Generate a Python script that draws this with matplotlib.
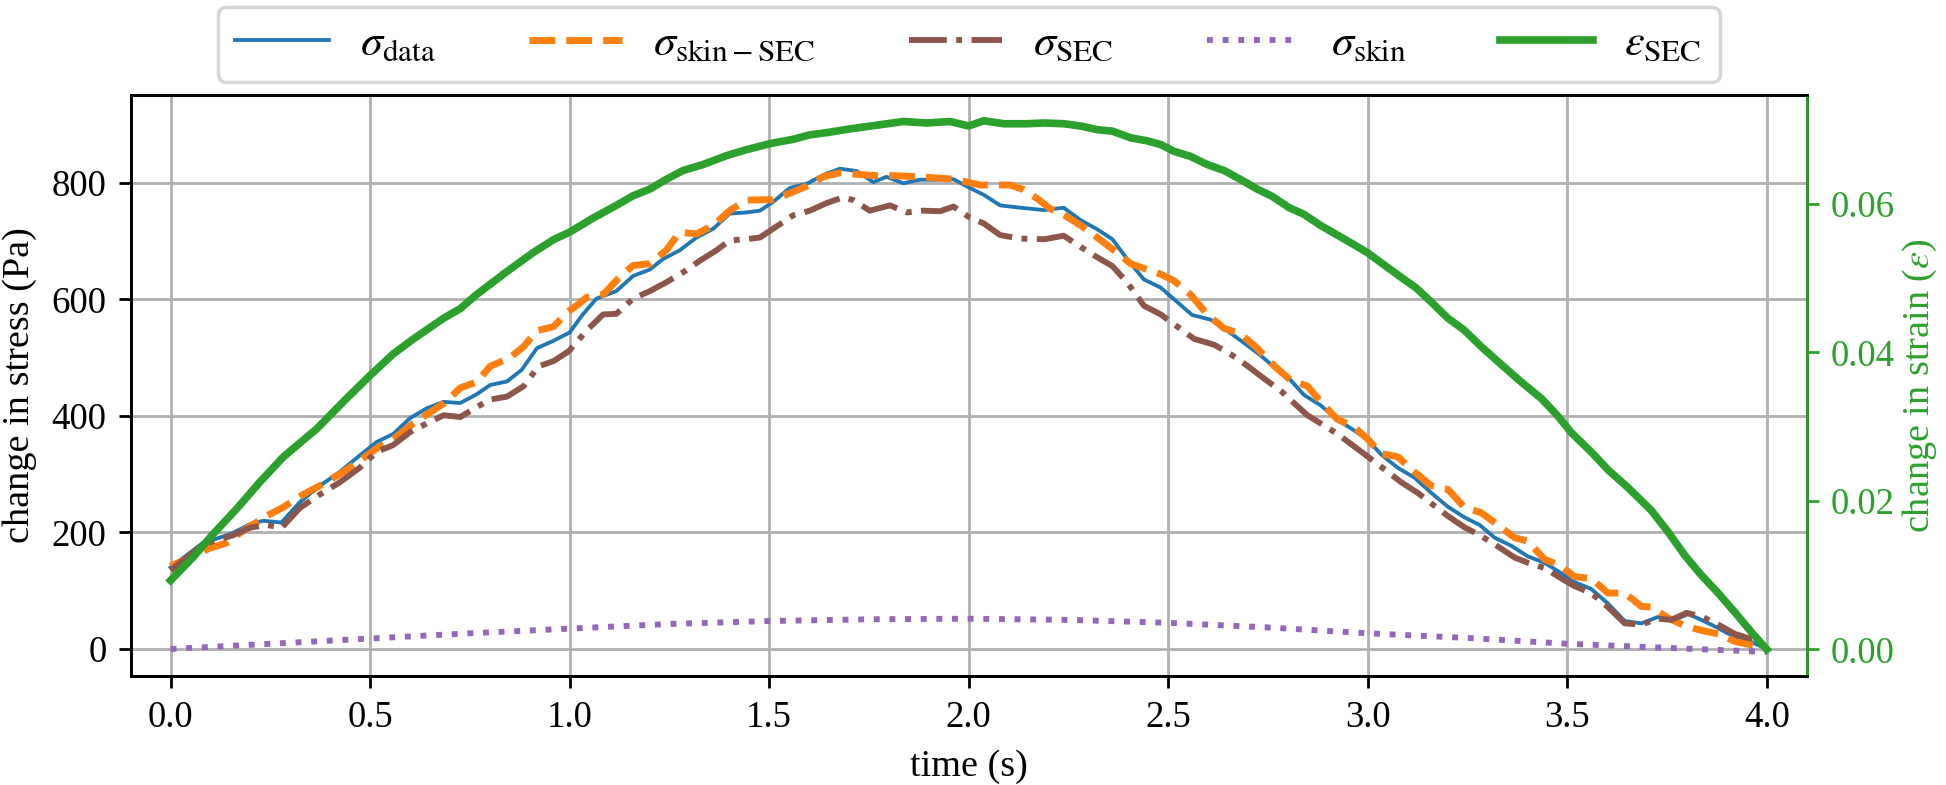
import matplotlib
matplotlib.use('Agg')
import matplotlib.pyplot as plt

plt.rcParams['font.family'] = ['Liberation Serif', 'DejaVu Serif']
plt.rcParams['mathtext.fontset'] = 'stix'

# ---------------- data ----------------
t_data = [0.0, 0.081, 0.123, 0.156, 0.198, 0.232, 0.278, 0.324, 0.374, 0.424, 0.474, 0.516,
          0.558, 0.6, 0.642, 0.684, 0.726, 0.767, 0.801, 0.843, 0.88, 0.918, 0.96, 1.0,
          1.033, 1.067, 1.117, 1.159, 1.201, 1.234, 1.276, 1.318, 1.36, 1.401, 1.443, 1.477,
          1.51, 1.552, 1.594, 1.635, 1.677, 1.719, 1.761, 1.794, 1.836, 1.878, 1.92, 1.962,
          2.0, 2.038, 2.079, 2.13, 2.188, 2.238, 2.28, 2.322, 2.36, 2.397, 2.439, 2.481,
          2.523, 2.56, 2.606, 2.648, 2.69, 2.731, 2.773, 2.807, 2.84, 2.882, 2.924, 2.966,
          3.0, 3.033, 3.075, 3.117, 3.159, 3.201, 3.242, 3.28, 3.318, 3.36, 3.401, 3.443,
          3.485, 3.518, 3.56, 3.602, 3.644, 3.686, 3.727, 3.769, 3.803, 3.836, 3.878, 3.92,
          3.962, 4.0]
sigma_data = [140, 182, 191, 199, 214, 220, 217, 252, 280, 304, 332, 355,
              369, 396, 413, 424, 422, 437, 453, 459, 479, 516, 529, 543,
              574, 601, 614, 640, 651, 669, 684, 706, 721, 747, 749, 752,
              767, 791, 798, 813, 824, 820, 801, 810, 799, 805, 805, 806,
              792, 779, 761, 757, 753, 757, 736, 720, 703, 669, 634, 620,
              595, 573, 565, 546, 525, 504, 479, 461, 436, 418, 393, 375,
              359, 334, 311, 294, 268, 244, 226, 213, 191, 177, 159, 148,
              130, 115, 103, 78, 48, 44, 55, 50, 60, 50, 36, 20,
              12, 0]

t_skin_sec = [0.0, 0.056, 0.098, 0.14, 0.182, 0.24, 0.282, 0.332, 0.382, 0.433, 0.474, 0.516,
              0.558, 0.608, 0.65, 0.684, 0.726, 0.767, 0.801, 0.851, 0.885, 0.918, 0.96, 0.993,
              1.023, 1.042, 1.084, 1.125, 1.159, 1.201, 1.242, 1.276, 1.318, 1.36, 1.401, 1.443,
              1.51, 1.552, 1.594, 1.635, 1.677, 1.727, 1.769, 1.811, 1.878, 1.92, 1.962, 2.003,
              2.029, 2.104, 2.138, 2.171, 2.205, 2.238, 2.28, 2.322, 2.364, 2.406, 2.447, 2.481,
              2.514, 2.556, 2.598, 2.64, 2.681, 2.723, 2.765, 2.807, 2.849, 2.89, 2.924, 2.966,
              3.0, 3.033, 3.075, 3.117, 3.159, 3.201, 3.242, 3.284, 3.326, 3.368, 3.401, 3.443,
              3.485, 3.518, 3.56, 3.602, 3.644, 3.686, 3.711, 3.753, 3.794, 3.836, 3.878, 3.92,
              3.962, 4.0]
sigma_skin_sec = [142, 160, 173, 182, 203, 228, 243, 265, 283, 304, 323, 344,
                  360, 387, 406, 421, 448, 458, 485, 500, 519, 546, 553, 577,
                  592, 603, 608, 638, 658, 661, 684, 715, 712, 727, 752, 770,
                  771, 782, 794, 810, 817, 814, 812, 812, 810, 808, 806, 800,
                  796, 796, 788, 773, 755, 745, 727, 706, 684, 661, 651, 643,
                  632, 608, 574, 550, 541, 516, 486, 461, 451, 418, 394, 381,
                  360, 335, 330, 304, 280, 274, 243, 234, 213, 191, 185, 154,
                  142, 124, 121, 96, 96, 73, 72, 53, 40, 32, 26, 13,
                  7, 0]

t_sec = [0.0, 0.081, 0.115, 0.156, 0.198, 0.24, 0.278, 0.324, 0.374, 0.424, 0.474, 0.516,
         0.558, 0.6, 0.642, 0.684, 0.726, 0.767, 0.801, 0.843, 0.885, 0.922, 0.96, 0.998,
         1.042, 1.084, 1.117, 1.159, 1.201, 1.242, 1.284, 1.326, 1.368, 1.401, 1.443, 1.477,
         1.51, 1.56, 1.602, 1.644, 1.686, 1.711, 1.752, 1.803, 1.845, 1.886, 1.928, 1.962,
         2.003, 2.038, 2.079, 2.13, 2.19, 2.238, 2.28, 2.322, 2.36, 2.397, 2.439, 2.481,
         2.523, 2.565, 2.615, 2.656, 2.698, 2.74, 2.782, 2.815, 2.849, 2.882, 2.924, 2.975,
         3.008, 3.05, 3.084, 3.125, 3.159, 3.201, 3.242, 3.284, 3.326, 3.368, 3.401, 3.443,
         3.485, 3.518, 3.56, 3.602, 3.644, 3.686, 3.727, 3.761, 3.799, 3.836, 3.878, 3.92,
         3.962, 4.0]
sigma_sec = [135, 179, 187, 195, 208, 213, 208, 242, 265, 286, 311, 338,
             350, 372, 387, 401, 398, 415, 428, 433, 451, 485, 494, 511,
             546, 574, 575, 601, 614, 629, 646, 666, 684, 701, 703, 706,
             721, 744, 752, 765, 775, 770, 752, 761, 749, 752, 751, 759,
             740, 730, 710, 704, 703, 709, 690, 672, 657, 629, 589, 574,
             553, 532, 522, 506, 486, 464, 443, 422, 401, 387, 369, 343,
             326, 304, 286, 268, 250, 228, 209, 194, 176, 157, 148, 139,
             121, 108, 96, 72, 44, 42, 52, 50, 62, 56, 42, 26,
             17, 1]

t_skin = [0.0, 0.25, 0.5, 0.75, 1.0, 1.25, 1.5, 1.75, 2.0, 2.25, 2.5, 2.75, 3.0, 3.25,
          3.5, 3.75, 4.0]
sigma_skin = [0, 9, 18, 27, 35, 43, 48, 51, 52, 50, 45, 37, 27, 19, 9, 2, -5]

t_strain = [0.0, 0.056, 0.106, 0.165, 0.223, 0.282, 0.315, 0.366, 0.441, 0.5, 0.558, 0.608,
            0.684, 0.726, 0.767, 0.843, 0.91, 0.96, 1.0, 1.059, 1.117, 1.159, 1.201, 1.242,
            1.284, 1.334, 1.393, 1.443, 1.5, 1.56, 1.602, 1.644, 1.702, 1.769, 1.836, 1.895,
            1.953, 2.0, 2.038, 2.088, 2.146, 2.19, 2.238, 2.28, 2.322, 2.36, 2.406, 2.447,
            2.481, 2.514, 2.556, 2.598, 2.64, 2.681, 2.723, 2.761, 2.803, 2.84, 2.882, 2.924,
            2.966, 3.0, 3.033, 3.084, 3.121, 3.159, 3.201, 3.242, 3.284, 3.334, 3.385, 3.435,
            3.477, 3.51, 3.56, 3.602, 3.652, 3.711, 3.753, 3.794, 3.836, 3.878, 3.92, 3.962,
            4.0]
eps_sec = [0.0093, 0.0124, 0.0155, 0.0189, 0.0225, 0.0259, 0.0274, 0.0297, 0.0338, 0.0369,
           0.0398, 0.0418, 0.0446, 0.0459, 0.0478, 0.0509, 0.0535, 0.0552, 0.0562, 0.0581,
           0.0598, 0.0611, 0.0620, 0.0633, 0.0645, 0.0653, 0.0665, 0.0673, 0.0681, 0.0687,
           0.0693, 0.0696, 0.0701, 0.0706, 0.0711, 0.0709, 0.0711, 0.0705, 0.0712, 0.0708,
           0.0708, 0.0709, 0.0708, 0.0705, 0.0700, 0.0698, 0.0689, 0.0685, 0.0680, 0.0671,
           0.0664, 0.0653, 0.0645, 0.0633, 0.0620, 0.0610, 0.0595, 0.0586, 0.0571, 0.0558,
           0.0545, 0.0534, 0.0521, 0.0501, 0.0487, 0.0468, 0.0446, 0.0430, 0.0408, 0.0384,
           0.0360, 0.0338, 0.0314, 0.0292, 0.0266, 0.0242, 0.0218, 0.0187, 0.0158, 0.0127,
           0.0100, 0.0076, 0.0050, 0.0023, 0.0]

x_ticks = [0.0, 0.5, 1.0, 1.5, 2.0, 2.5, 3.0, 3.5, 4.0]
stress_ticks = [0, 200, 400, 600, 800]
strain_ticks = [0.00, 0.02, 0.04, 0.06]

labels = [r'$\sigma_{\mathrm{data}}$', r'$\sigma_{\mathrm{skin-SEC}}$', r'$\sigma_{\mathrm{SEC}}$',
          r'$\sigma_{\mathrm{skin}}$', r'$\varepsilon_{\mathrm{SEC}}$']

# ---------------- figure ----------------
fig = plt.figure(figsize=(1946 / 250, 785 / 250), dpi=250)
ax = fig.add_axes([0.06716, 0.13847, 0.86125, 0.74089])
ax2 = ax.twinx()

l1, = ax.plot(t_data, sigma_data, color='C0', lw=1.1)
l2, = ax.plot(t_skin_sec, sigma_skin_sec, color='C1', lw=2.0, ls='--')
l3, = ax.plot(t_sec, sigma_sec, color='C5', lw=1.7, ls='-.')
l4, = ax.plot(t_skin, sigma_skin, color='C4', lw=1.7, ls=':')
l5, = ax2.plot(t_strain, eps_sec, color='C2', lw=2.2)

ax.set_xlim(-0.1, 4.1)
ax.set_ylim(-46.8, 950.9)
ax2.set_ylim(-0.003623, 0.07471)

ax.set_xticks(x_ticks)
ax.set_yticks(stress_ticks)
ax2.set_yticks(strain_ticks)
ax.set_xticklabels([f'{v:.1f}' for v in x_ticks])
ax2.set_yticklabels([f'{v:.2f}' for v in strain_ticks])
ax.tick_params(labelsize=10.6)
ax2.tick_params(axis='y', labelsize=10.6, colors='C2')
ax2.spines['right'].set_color('C2')

ax.grid(True)
ax.set_xlabel('time (s)', fontsize=11)
ax.set_ylabel('change in stress (Pa)', fontsize=11)
ax2.set_ylabel(r'change in strain ($\varepsilon$)', fontsize=11, color='C2', labelpad=1.5)

ax2.legend([l1, l2, l3, l4, l5], labels, loc='lower center', bbox_to_anchor=(0.5, 1.0),
           ncol=5, fontsize=12.8, borderaxespad=0.28, handlelength=2.1,
           handletextpad=0.7, columnspacing=2.1)

fig.savefig('out.png', dpi=250)
